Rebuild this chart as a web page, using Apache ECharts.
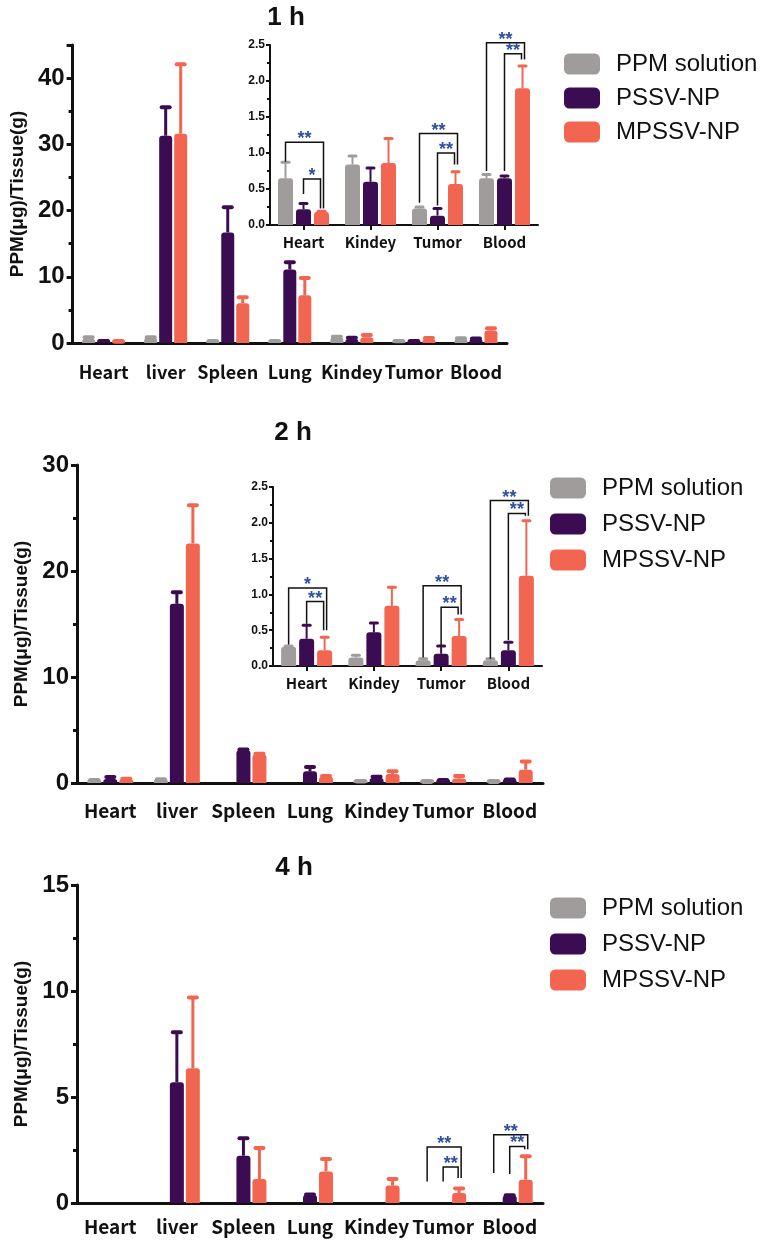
<!DOCTYPE html>
<html>
<head>
<meta charset="utf-8">
<title>PPM tissue distribution</title>
<script src="https://cdn.jsdelivr.net/npm/echarts@6/dist/echarts.min.js"></script>
<style>
html,body{margin:0;padding:0;background:#fff}
#main{width:760px;height:1246px}
</style>
</head>
<body>
<div id="main"></div>
<script>
var organs = ['Heart', 'liver', 'Spleen', 'Lung', 'Kindey', 'Tumor', 'Blood'];
var insetOrgans = ['Heart', 'Kindey', 'Tumor', 'Blood'];
var insetPick = [0, 4, 5, 6];
var groups = ['PPM solution', 'PSSV-NP', 'MPSSV-NP'];
var colors = ['#a09c9c', '#3b0c52', '#f26651'];

// 1 h  (mean, then SD)
var ppm1 = [0.65, 0.8, 0.1, 0.2, 0.84, 0.23, 0.65];
var ppm1Sd = [0.22, 0.05, 0, 0, 0.12, 0.02, 0.05];
var pssv1 = [0.22, 31.3, 16.7, 11.1, 0.6, 0.13, 0.65];
var pssv1Sd = [0.08, 4.3, 3.8, 1.1, 0.19, 0.1, 0.03];
var mps1 = [0.18, 31.6, 6.0, 7.2, 0.86, 0.57, 1.9];
var mps1Sd = [0.01, 10.5, 0.9, 2.6, 0.34, 0.17, 0.31];

// 2 h
var ppm2 = [0.27, 0.3, 0, 0, 0.12, 0.08, 0.08];
var ppm2Sd = [0.01, 0.05, 0, 0, 0.03, 0.02, 0.02];
var pssv2 = [0.38, 16.9, 3.1, 1.1, 0.47, 0.17, 0.22];
var pssv2Sd = [0.19, 1.1, 0.05, 0.4, 0.13, 0.11, 0.11];
var mps2 = [0.22, 22.6, 2.7, 0.6, 0.84, 0.42, 1.26];
var mps2Sd = [0.18, 3.6, 0.05, 0.05, 0.26, 0.23, 0.77];

// 4 h
var ppm4 = [0, 0, 0, 0, 0, 0, 0];
var ppm4Sd = [0, 0, 0, 0, 0, 0, 0];
var pssv4 = [0, 5.7, 2.23, 0.38, 0, 0, 0.35];
var pssv4Sd = [0, 2.35, 0.83, 0.02, 0, 0, 0.02];
var mps4 = [0, 6.36, 1.13, 1.49, 0.82, 0.47, 1.1];
var mps4Sd = [0, 3.33, 1.46, 0.58, 0.31, 0.21, 1.1];

// significance brackets: [category, fromGroup, toGroup, top, leftLegEnd, rightLegEnd]
var br1 = [[0, 0, 2, 1.15, 0.88, 0.23], [0, 1, 2, 0.64, 0.43, 0.23],
  [2, 0, 2, 1.27, 0.31, 0.84], [2, 1, 2, 1.0, 0.27, 0.84],
  [3, 0, 2, 2.53, 0.75, 2.3], [3, 1, 2, 2.38, 0.75, 2.3]];
var br1Stars = ['**', '*', '**', '**', '**', '**'];
var br2 = [[0, 0, 2, 1.09, 0.3, 0.5], [0, 1, 2, 0.9, 0.59, 0.5],
  [2, 0, 2, 1.12, 0.12, 0.72], [2, 1, 2, 0.82, 0.29, 0.72],
  [3, 0, 2, 2.31, 0.1, 2.1], [3, 1, 2, 2.13, 0.36, 2.1]];
var br2Stars = ['*', '**', '**', '**', '**', '**'];
var br3 = [[5, 0, 2, 2.64, 1.02, 1.18], [5, 1, 2, 1.70, 1.02, 1.18],
  [6, 0, 2, 3.22, 1.41, 2.54], [6, 1, 2, 2.67, 1.37, 2.54]];
var br3Stars = ['**', '**', '**', '**'];

var chart = echarts.init(document.getElementById('main'));

function pick(arr) {
  var out = [];
  for (var i = 0; i < insetPick.length; i++) out.push(arr[insetPick[i]]);
  return out;
}

function errRender(offset, color, lw, capW) {
  return function (params, api) {
    var cat = api.value(0), m = api.value(1), sd = api.value(2);
    if (!(sd > 0)) return;
    var p0 = api.coord([cat, m]);
    var p1 = api.coord([cat, m + sd]);
    var x = p0[0] + offset;
    return {
      type: 'group',
      children: [
        {type: 'line', shape: {x1: x, y1: p0[1], x2: x, y2: p1[1]}, style: {stroke: color, lineWidth: lw}},
        {type: 'line', shape: {x1: x - capW / 2, y1: p1[1], x2: x + capW / 2, y2: p1[1]},
          style: {stroke: color, lineWidth: lw + 1, lineCap: 'round'}}
      ]
    };
  };
}

function bracketRender(step, stars) {
  return function (params, api) {
    var cat = api.value(0), from = api.value(1), to = api.value(2);
    var top = api.coord([cat, api.value(3)]);
    var lEnd = api.coord([cat, api.value(4)]);
    var rEnd = api.coord([cat, api.value(5)]);
    var xl = top[0] + (from - 1) * step;
    var xr = top[0] + (to - 1) * step + (from == 0 ? 2 : -1);
    return {
      type: 'group',
      children: [
        {type: 'polyline', shape: {points: [[xl, lEnd[1]], [xl, top[1]], [xr, top[1]], [xr, rEnd[1]]]},
          style: {fill: null, stroke: '#111', lineWidth: 1.5}},
        {type: 'text', x: (xl + xr) / 2, y: top[1] - 3,
          style: {text: stars[params.dataIndex], fill: '#2f4f9f', font: 'bold 18px "Liberation Sans", Arial',
            align: 'center', verticalAlign: 'middle'}}
      ]
    };
  };
}

var series = [];

function addBars(vals, sds, xi, yi, bw, step, lw, capW, minH) {
  for (var k = 0; k < 3; k++) {
    var bd = [];
    var ed = [];
    for (var i = 0; i < vals[k].length; i++) {
      bd.push(vals[k][i] === 0 ? '-' : vals[k][i]);
      ed.push([i, vals[k][i], sds[k][i]]);
    }
    series.push({
      type: 'bar', name: groups[k], xAxisIndex: xi, yAxisIndex: yi, data: bd,
      barWidth: bw, barGap: ((step - bw) / bw * 100) + '%', barMinHeight: minH,
      itemStyle: {color: colors[k], borderRadius: [3, 3, 0, 0]}, z: 2
    });
    series.push({
      type: 'custom', xAxisIndex: xi, yAxisIndex: yi, data: ed, silent: true, z: 3,
      renderItem: errRender((k - 1) * step, colors[k], lw, capW)
    });
  }
}

function addBrackets(data, stars, xi, yi, step) {
  series.push({
    type: 'custom', xAxisIndex: xi, yAxisIndex: yi, data: data, silent: true, z: 4, clip: false,
    renderItem: bracketRender(step, stars)
  });
}

addBars([ppm1, pssv1, mps1], [ppm1Sd, pssv1Sd, mps1Sd], 0, 0, 13, 15, 3, 8, 4);
addBars([pick(ppm1), pick(pssv1), pick(mps1)], [pick(ppm1Sd), pick(pssv1Sd), pick(mps1Sd)], 1, 1, 15, 18, 2, 7, 2);
addBrackets(br1, br1Stars, 1, 1, 18);
addBars([ppm2, pssv2, mps2], [ppm2Sd, pssv2Sd, mps2Sd], 2, 2, 14, 16, 3, 8, 4);
addBars([pick(ppm2), pick(pssv2), pick(mps2)], [pick(ppm2Sd), pick(pssv2Sd), pick(mps2Sd)], 3, 3, 15, 18, 2, 7, 2);
addBrackets(br2, br2Stars, 3, 3, 18);
addBars([ppm4, pssv4, mps4], [ppm4Sd, pssv4Sd, mps4Sd], 4, 4, 14, 16, 3, 8, 4);
addBrackets(br3, br3Stars, 4, 4, 16);

function mainX(gi, margin, fs) {
  return {
    type: 'category', gridIndex: gi, data: organs,
    axisLine: {lineStyle: {color: '#111', width: 3}},
    axisTick: {show: false},
    axisLabel: {color: '#111', fontSize: fs, fontWeight: 'bold', margin: margin, interval: 0,
      fontFamily: '"Noto Sans CJK KR", "Liberation Sans", sans-serif'}
  };
}
function mainY(gi, max, interval) {
  return {
    type: 'value', gridIndex: gi, min: 0, max: max, interval: interval,
    name: 'PPM(\u03bcg)/Tissue(g)', nameLocation: 'middle', nameGap: 44,
    nameTextStyle: {color: '#111', fontSize: 19, fontWeight: 'bold', fontFamily: '"Liberation Sans", Arial'},
    axisLine: {show: true, lineStyle: {color: '#111', width: 3}},
    axisTick: {show: true, length: 6, lineStyle: {color: '#111', width: 3}},
    minorTick: {show: true, splitNumber: 2, length: 4, lineStyle: {color: '#111', width: 3}},
    splitLine: {show: false},
    axisLabel: {color: '#111', fontSize: 24, fontWeight: 'bold', margin: 8, showMaxLabel: max % interval == 0,
      fontFamily: '"Liberation Sans", Arial'}
  };
}
function insetX(gi) {
  return {
    type: 'category', gridIndex: gi, data: insetOrgans,
    axisLine: {lineStyle: {color: '#111', width: 2}},
    axisTick: {show: true, alignWithLabel: true, length: 5, lineStyle: {color: '#111', width: 2}},
    axisLabel: {color: '#111', fontSize: 15, fontWeight: 'bold', margin: 10, interval: 0,
      fontFamily: '"Noto Sans CJK KR", "Liberation Sans", sans-serif'}
  };
}
function insetY(gi) {
  return {
    type: 'value', gridIndex: gi, min: 0, max: 2.5, interval: 0.5,
    axisLine: {show: true, lineStyle: {color: '#111', width: 2}},
    axisTick: {show: true, length: 4, lineStyle: {color: '#111', width: 2}},
    minorTick: {show: true, splitNumber: 2, length: 3, lineStyle: {color: '#111', width: 2}},
    splitLine: {show: false},
    axisLabel: {color: '#111', fontSize: 12, fontWeight: 'bold', margin: 5,
      fontFamily: '"Liberation Sans", Arial', formatter: function (v) { return v.toFixed(1); }}
  };
}
function legendAt(left, top, gap) {
  return {
    orient: 'vertical', left: left, top: top, padding: 0, itemWidth: 36, itemHeight: 21, itemGap: gap,
    icon: 'roundRect', data: groups, selectedMode: false,
    textStyle: {fontSize: 24, color: '#111', padding: [0, 0, 0, 11], fontFamily: '"Liberation Sans", Arial'}
  };
}
function titleAt(text, x, y) {
  return {text: text, left: x, top: y, padding: 0, textAlign: 'center',
    textStyle: {fontSize: 26, fontWeight: 'bold', color: '#111', fontFamily: '"Liberation Sans", Arial'}};
}

var option = {
  backgroundColor: '#fff',
  animation: false,
  title: [titleAt('1 h', 286, 5), titleAt('2 h', 293, 420), titleAt('4 h', 294, 855)],
  legend: [legendAt(564, 52, 10), legendAt(550, 476, 12), legendAt(550, 896, 12)],
  grid: [
    {left: 69, top: 45, width: 438, height: 298},
    {left: 270, top: 45, width: 268, height: 180},
    {left: 77, top: 465, width: 466, height: 318},
    {left: 273, top: 487, width: 269, height: 179},
    {left: 77, top: 885, width: 466, height: 318}
  ],
  xAxis: [mainX(0, 20, 18), insetX(1), mainX(2, 18, 19), insetX(3), mainX(4, 14, 19)],
  yAxis: [mainY(0, 45, 10), insetY(1), mainY(2, 30, 10), insetY(3), mainY(4, 15, 5)],
  series: series
};
chart.setOption(option);
</script>
</body>
</html>
